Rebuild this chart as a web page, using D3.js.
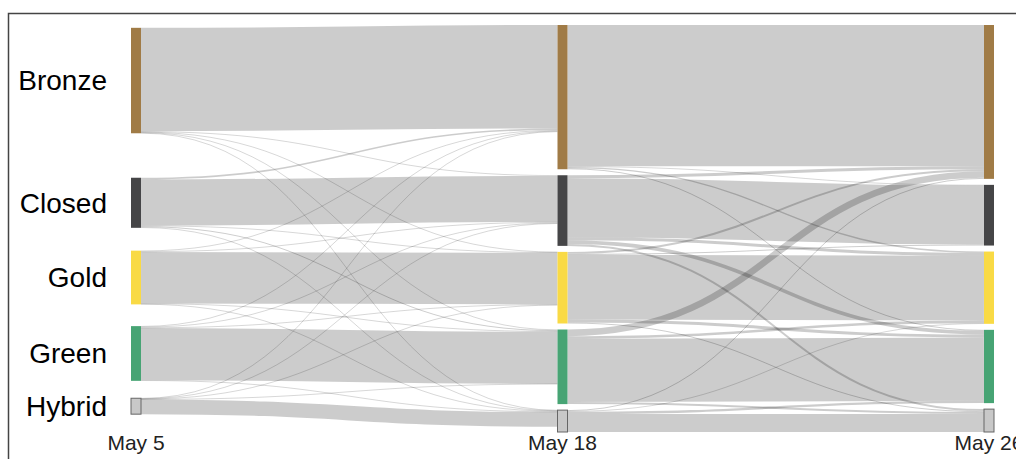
<!DOCTYPE html>
<html>
<head>
<meta charset="utf-8">
<script src="https://cdn.jsdelivr.net/npm/d3@7"></script>
<style>
  body { margin: 0; background: #fff; }
  svg { display: block; font-family: "Liberation Sans", Arial, sans-serif; }
</style>
</head>
<body>
<div id="chart"></div>
<script>
// stages (columns) and categories (nodes in each column)
var stages = ["May 5", "May 18", "May 26"];
var categories = ["Bronze", "Closed", "Gold", "Green", "Hybrid"];
var catColors = ["#a07b46", "#454547", "#f9da45", "#47a474", "#c8c8c8"];

// flows between stages, rows = from category, cols = to category
var flowsMay5toMay18 = [
    [312, 2, 1, 2, 1],
    [5, 139, 2, 3, 2],
    [2, 2, 155, 2, 1],
    [2, 2, 2, 157, 2],
    [1, 1, 1, 1, 44]
];
var flowsMay18toMay26 = [
    [426, 2, 4, 3, 0],
    [9, 178, 9, 11, 6],
    [6, 3, 195, 9, 3],
    [20, 0, 8, 191, 6],
    [3, 0, 2, 7, 54]
];

function sankeyChart() {
//size of svg and plot extent
    var w = 1016;
    var h = 459;
    var top = 25, bottom = 432;
    var nodeW = 10;
    var py = 6;          // node padding

    var svg = d3.select("#chart")
                .append("svg")
                .attr("width", w)
                .attr("height", h);

    // frame round the chart (right and bottom run off the page)
    svg.append("rect")
        .attr("x", 8.5)
        .attr("y", 13.5)
        .attr("width", 1100)
        .attr("height", 600)
        .attr("fill", "none")
        .attr("stroke", "#444")
        .attr("stroke-width", 1.5);

//build nodes and links
    var columns = stages.map(function(s, si) {
        return categories.map(function(c, ci) {
            return {name: c, stage: si, cat: ci, sourceLinks: [], targetLinks: []};
        });
    });
    var links = [];
    [flowsMay5toMay18, flowsMay18toMay26].forEach(function(m, si) {
        m.forEach(function(row, i) {
            row.forEach(function(v, j) {
                if (v > 0) {
                    var l = {source: columns[si][i], target: columns[si + 1][j], value: v};
                    l.source.sourceLinks.push(l);
                    l.target.targetLinks.push(l);
                    links.push(l);
                }
            });
        });
    });
    columns.forEach(function(col) {
        col.forEach(function(n) {
            n.value = Math.max(d3.sum(n.sourceLinks, function(d) { return d.value; }),
                               d3.sum(n.targetLinks, function(d) { return d.value; }));
        });
    });

//scales
    var xScale = d3.scaleLinear()
                    .domain([0, stages.length - 1])
                    .range([131, 984]);

    var maxTotal = d3.max(columns, function(c) { return d3.sum(c, function(d) { return d.value; }); });
    var yScale = d3.scaleLinear()
                    .domain([0, maxTotal])
                    .range([0, bottom - top - (categories.length - 1) * py]);

    var color = d3.scaleOrdinal()
                    .domain(categories)
                    .range(catColors);

//layout: stack every column, then move the nodes of the not-full
//columns so their links run as flat as they can
    columns.forEach(function(nodes) {
        var y = top;
        nodes.forEach(function(n) {
            n.x0 = xScale(n.stage);
            n.x1 = n.x0 + nodeW;
            n.y0 = y;
            n.y1 = y + yScale(n.value);
            y = n.y1 + py;
            n.sourceLinks.forEach(function(l) { l.width = yScale(l.value); });
        });
    });

    // offset of a link inside the source / target node (links keep category order)
    function offsetOut(l) {
        var o = 0;
        for (var i = 0; i < l.source.sourceLinks.length && l.source.sourceLinks[i] !== l; i++) o += l.source.sourceLinks[i].width;
        return o;
    }
    function offsetIn(l) {
        var o = 0;
        for (var i = 0; i < l.target.targetLinks.length && l.target.targetLinks[i] !== l; i++) o += l.target.targetLinks[i].width;
        return o;
    }
    function resolveCollisions(nodes) {
        var i, n, d;
        // share overlaps between neighbours
        for (i = 1; i < nodes.length; i++) {
            d = nodes[i - 1].y1 + py - nodes[i].y0;
            if (d > 0) {
                nodes[i - 1].y0 -= d / 2; nodes[i - 1].y1 -= d / 2;
                nodes[i].y0 += d / 2; nodes[i].y1 += d / 2;
            }
        }
        var y = top;
        for (i = 0; i < nodes.length; i++) {
            n = nodes[i];
            d = y - n.y0;
            if (d > 0) { n.y0 += d; n.y1 += d; }
            y = n.y1 + py;
        }
        y = bottom;
        for (i = nodes.length - 1; i >= 0; i--) {
            n = nodes[i];
            d = n.y1 - y;
            if (d > 0) { n.y0 -= d; n.y1 -= d; }
            y = n.y0 - py;
        }
    }
    for (var c = columns.length - 2; c >= 0; --c) {
        columns[c].forEach(function(n) {
            var y = d3.sum(n.sourceLinks, function(l) {
                return (l.target.y0 + offsetIn(l) - offsetOut(l)) * l.value;
            }) / d3.sum(n.sourceLinks, function(l) { return l.value; });
            n.y1 += y - n.y0;
            n.y0 = y;
        });
        resolveCollisions(columns[c]);
    }

    // link end positions
    links.forEach(function(l) {
        l.y0 = l.source.y0 + offsetOut(l) + l.width / 2;
        l.y1 = l.target.y0 + offsetIn(l) + l.width / 2;
    });

//links
    var linkGen = d3.linkHorizontal();
    svg.append("g")
        .attr("fill", "none")
        .attr("stroke", "#000")
        .attr("stroke-opacity", 0.2)
        .selectAll("path")
        .data(links)
        .enter()
        .append("path")
        .attr("d", function(d) {
            return linkGen({source: [d.source.x1, d.y0], target: [d.target.x0, d.y1]});
        })
        .attr("stroke-width", function(d) { return Math.max(0.8, d.width); });

//nodes
    var allNodes = d3.merge(columns);
    svg.append("g")
        .selectAll("rect")
        .data(allNodes)
        .enter()
        .append("rect")
        .attr("x", function(d) { return d.x0; })
        .attr("y", function(d) { return d.y0; })
        .attr("width", nodeW)
        .attr("height", function(d) { return d.y1 - d.y0; })
        .attr("fill", function(d) { return color(d.name); })
        .attr("stroke", function(d) { return d.name == "Hybrid" ? "#666" : "none"; })
        .attr("stroke-width", 1);

//category labels on the first column
    svg.append("g")
        .attr("text-anchor", "end")
        .selectAll("text")
        .data(columns[0])
        .enter()
        .append("text")
        .attr("x", function(d) { return d.x0 - 24; })
        .attr("y", function(d) { return (d.y0 + d.y1) / 2; })
        .attr("dy", "0.35em")
        .attr("font-size", "28px")
        .attr("fill", "#000")
        .text(function(d) { return d.name; });

//stage labels under columns
    svg.append("g")
        .attr("text-anchor", "middle")
        .selectAll("text")
        .data(stages)
        .enter()
        .append("text")
        .attr("x", function(d, i) { return xScale(i) + nodeW / 2; })
        .attr("y", 450)
        .attr("font-size", "21px")
        .attr("fill", "#222")
        .text(function(d) { return d; });
}

window.onload = sankeyChart;
</script>
</body>
</html>
